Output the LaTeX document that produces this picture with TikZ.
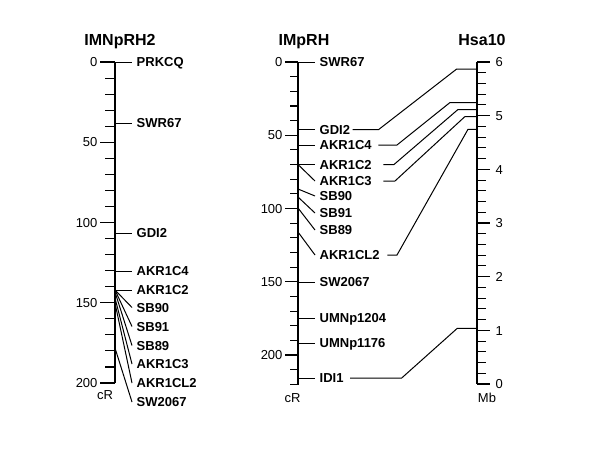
\documentclass[tikz,border=0pt]{standalone}
\usepackage{fontspec}
\setmainfont{Liberation Sans}
\newcommand{\mkr}[6]{%
  \coordinate (#1-a) at (#2,#3);
  \node[lab] (#1) at (#4,#5) {#6};
  \draw[conn] (#1-a) -- (#1.west);}
\begin{document}
\begin{tikzpicture}[x=1pt,y=-1pt,
  axis/.style={line width=1.2pt},
  tick/.style={line width=1.1pt},
  conn/.style={line width=1pt},
  lab/.style={anchor=west,font=\bfseries\fontsize{13}{13}\selectfont,inner xsep=4.5pt,inner ysep=0pt,text height=9.4pt,text depth=0pt},
  num/.style={font=\fontsize{13}{13}\selectfont,inner xsep=2pt,inner ysep=0pt,text height=9.4pt,text depth=0pt},
  title/.style={font=\bfseries\fontsize{16}{16}\selectfont,inner sep=0pt,text height=11.5pt,text depth=0pt},
  unit/.style={font=\fontsize{13}{13}\selectfont,inner sep=0pt,text height=9.4pt,text depth=0pt}]
\useasboundingbox[fill=white] (0,0) rectangle (600,450);

% titles
\node[title] (t1) at (120,40) {IMNpRH2};
\node[title] (t2) at (304,40) {IMpRH};
\node[title] (t3) at (482,40) {Hsa10};

% ---------- left map IMNpRH2 ----------
\draw[axis] (115,62) -- (115,383);
\foreach \i in {1,2,3,4,6,7,8,9,11,12,13,14,16,17,18,19}
  \draw[tick] (115,{62+16.05*\i}) -- ++(-10,0);
\foreach \v in {0,50,100,150,200}
  \draw[tick] (115,{62+1.605*\v}) -- ++(-15,0) node[num,anchor=east] (ln\v) {\v};
\node[unit] (u1) at (105,395) {cR};
\mkr{LPRKCQ}{115}{62}{132}{62}{PRKCQ}
\mkr{LSWR67}{115}{123}{132}{123}{SWR67}
\mkr{LGDI2}{115}{233}{132}{233}{GDI2}
\mkr{LAKR1C4}{115}{271}{132}{271}{AKR1C4}
\mkr{LAKR1C2}{115}{290}{132}{290}{AKR1C2}
\mkr{LSB90}{115}{290}{132}{307.5}{SB90}
\mkr{LSB91}{115}{290}{132}{326.5}{SB91}
\mkr{LSB89}{115}{292}{132}{345.5}{SB89}
\mkr{LAKR1C3}{115}{298}{132}{364}{AKR1C3}
\mkr{LAKR1CL2}{115}{303}{132}{383}{AKR1CL2}
\mkr{LSW2067}{115}{348}{132}{402}{SW2067}

% ---------- middle map IMpRH ----------
\draw[axis] (298,62) -- (298,385);
\foreach \i in {1,2,3,4,6,7,8,9,11,12,13,14,16,17,18,19,21,22}
  \draw[tick] (298,{62+14.65*\i}) -- ++(-8,0);
\foreach \v in {0,50,100,150,200}
  \draw[tick] (298,{62+1.465*\v}) -- ++(-13,0) node[num,anchor=east] (mn\v) {\v};
\node[unit] (u2) at (292.5,398) {cR};
\mkr{MSWR67}{298}{62}{315}{62}{SWR67}
\mkr{MGDI2}{298}{129.5}{315}{129.5}{GDI2}
\mkr{MAKR1C4}{298}{145}{315}{145}{AKR1C4}
\mkr{MAKR1C2}{298}{164.5}{315}{164.5}{AKR1C2}
\mkr{MAKR1C3}{298}{164.5}{315}{181}{AKR1C3}
\mkr{MSB90}{298}{189}{315}{196}{SB90}
\mkr{MSB91}{298}{197}{315}{213}{SB91}
\mkr{MSB89}{298}{208}{315}{230}{SB89}
\mkr{MAKR1CL2}{298}{232}{315}{255}{AKR1CL2}
\mkr{MSW2067}{298}{282}{315}{282}{SW2067}
\mkr{MUMNp1204}{298}{318}{315}{318}{UMNp1204}
\mkr{MUMNp1176}{298}{343}{315}{343}{UMNp1176}
\mkr{MIDI1}{298}{378}{315}{378}{IDI1}

% ---------- right map Hsa10 ----------
\draw[axis] (477,62) -- (477,384);
\foreach \i in {1,2,3,4,6,7,8,9,11,12,13,14,16,17,18,19,21,22,23,24,26,27,28,29}
  \draw[tick] (477,{384-10.733*\i}) -- ++(9,0);
\foreach \v in {0,...,6}
  \draw[tick] (477,{384-53.667*\v}) -- ++(13,0) node[num,anchor=west,inner xsep=5pt] (rn\v) {\v};
\node[unit] (u3) at (487,398) {Mb};

% connectors to Hsa10
\coordinate (h1) at (477,69);
\coordinate (h2) at (477,102.5);
\coordinate (h3) at (477,109.5);
\coordinate (h4) at (477,116.5);
\coordinate (h5) at (477,129.3);
\coordinate (h6) at (477,328.3);
\draw[conn] ([xshift=-2pt]MGDI2.east) -- (378.7,129.5) -- (456.7,69) -- (h1);
\draw[conn] ([xshift=2pt]MAKR1C4.east) -- (397,145) -- (450,102.5) -- (h2);
\draw[conn] ([xshift=7pt]MAKR1C2.east) -- (394,164.5) -- (458,109.5) -- (h3);
\draw[conn] ([xshift=7pt]MAKR1C3.east) -- (395,181) -- (465,116.5) -- (h4);
\draw[conn] ([xshift=3pt]MAKR1CL2.east) -- (397,255) -- (468,129.3) -- (h5);
\draw[conn] ([xshift=2pt]MIDI1.east) -- (401.7,378) -- (457.3,328.3) -- (h6);
\end{tikzpicture}
\end{document}
